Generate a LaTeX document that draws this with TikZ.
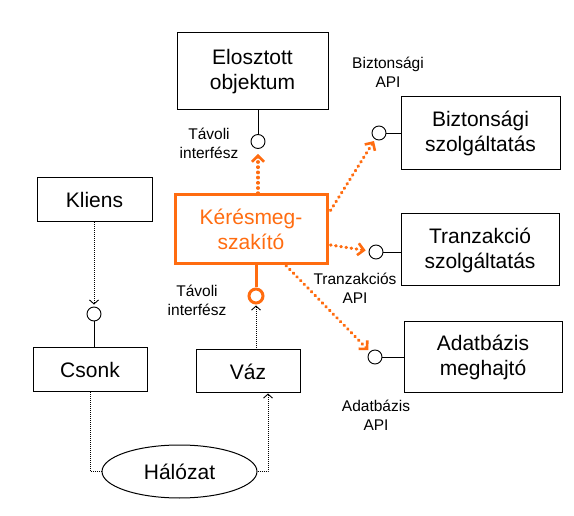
\documentclass[tikz,border=0pt]{standalone}
\usepackage{fontspec}
\setmainfont{Liberation Sans}
\usetikzlibrary{arrows.meta,shapes.geometric}
\definecolor{org}{RGB}{255,108,16}
\begin{document}
\begin{tikzpicture}[x=1pt,y=-1pt,
  box/.style={draw=black,line width=1pt,fill=white,align=center,inner sep=0pt,
    font=\fontsize{21}{25}\selectfont},
  lbl/.style={align=center,inner sep=0pt,font=\fontsize{15.5}{19}\selectfont},
  iface/.style={circle,draw=black,line width=0.9pt,minimum size=14pt,inner sep=0pt,fill=white},
  stem/.style={line width=0.9pt},
  blkdot/.style={line width=0.8pt,dash pattern=on 0.8pt off 1.2pt,-{Straight Barb[length=4pt,width=9pt,line width=0.9pt]}},
  orgdot/.style={draw=org,line width=3.2pt,dash pattern=on 0.6pt off 4.6pt,line cap=round,
    -{Straight Barb[length=6pt,width=12pt,line width=2.6pt]}},
]
\useasboundingbox (0,0) rectangle (574,516);

% distributed object
\node[box,minimum width=151pt,minimum height=77pt] (obj) at (252.5,71.5) {Elosztott\\objektum};
\node[iface] (iobj) at (258,141.5) {};
\draw[stem] (iobj.north) -- (iobj.north |- obj.south);
\node[lbl] (lobj) at (209,143) {Távoli\\interfész};

% interceptor
\node[box,draw=org,line width=3pt,text=org,minimum width=152pt,minimum height=69pt] (ker) at (251,229.5) {Kérésmeg-\\szakító};
\node[iface,draw=org,line width=3pt,minimum size=14pt] (iker) at (256,296) {};
\draw[org,line width=3pt] (iker.north) -- (iker.north |- ker.south);
\node[lbl] (lker) at (197,300) {Távoli\\interfész};

% skeleton
\node[box,minimum width=104pt,minimum height=43pt] (vaz) at (248,371.5) {Váz};

% client / stub
\node[box,minimum width=115pt,minimum height=44pt] (kl) at (94.5,200) {Kliens};
\node[box,minimum width=114pt,minimum height=44pt] (cs) at (90,370) {Csonk};
\node[iface] (icl) at (94,314) {};
\draw[stem] (icl.south) -- (icl.south |- cs.north);

% network
\node[draw,ellipse,line width=1pt,minimum width=155pt,minimum height=53pt,inner sep=0pt,
  font=\fontsize{21}{25}\selectfont] (net) at (179.5,471.5) {Hálózat};

% services
\node[box,minimum width=159pt,minimum height=73pt] (bs) at (480.5,133.5) {Biztonsági\\szolgáltatás};
\node[iface] (ibs) at (379,133) {};
\draw[stem] (ibs.east) -- (ibs.east -| bs.west);
\node[lbl] (lbs) at (388,72) {Biztonsági\\API};

\node[box,minimum width=158pt,minimum height=72pt] (ts) at (480,250) {Tranzakció\\szolgáltatás};
\node[iface] (its) at (376,252) {};
\draw[stem] (its.east) -- (its.east -| ts.west);
\node[lbl] (lts) at (355,288) {Tranzakciós\\API};

\node[box,minimum width=158pt,minimum height=71pt] (db) at (483,357.5) {Adatbázis\\meghajtó};
\node[iface] (idb) at (375,357) {};
\draw[stem] (idb.east) -- (idb.east -| db.west);
\node[lbl] (ldb) at (376,415) {Adatbázis\\API};

% black dotted connectors
\draw[blkdot,shorten >=2pt] (kl.south -| icl) -- (icl.north);
\draw[blkdot,shorten >=1pt] (vaz.north -| iker) -- (iker.south);
\draw[line width=0.8pt,dash pattern=on 0.8pt off 1.2pt] (cs.south) |- (net.west);
\draw[blkdot] (net.east) -| ([xshift=20pt]vaz.south);

% orange dotted connectors
\draw[orgdot,shorten >=5pt] (ker.north -| iobj) -- (iobj.south);
\draw[orgdot,shorten >=2pt] ([xshift=2pt,yshift=-17pt]ker.north east) -- (ibs);
\draw[orgdot,shorten >=3pt] ([xshift=2pt,yshift=-15.5pt]ker.east) -- (its);
\draw[orgdot,shorten >=2pt] ([xshift=35pt]ker.south) -- (idb);
\end{tikzpicture}
\end{document}
